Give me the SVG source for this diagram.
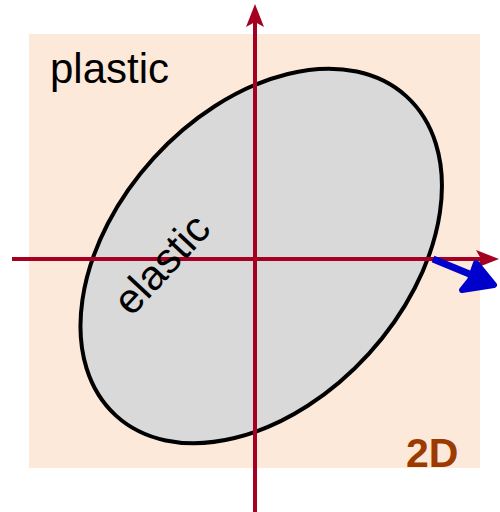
<svg xmlns="http://www.w3.org/2000/svg" width="500" height="512" viewBox="0 0 500 512">
<style>
.axis{stroke:#A50021;stroke-width:4;fill:none}
.head{fill:#A50021}
.lbl{font-family:"Liberation Sans",Arial,sans-serif;font-size:42px;fill:#000}
</style>
<rect x="0" y="0" width="500" height="512" fill="#fff"/>
<rect x="29" y="34" width="451" height="434" fill="#FDE9D9"/>
<g id="elastic-region">
<ellipse cx="261.2" cy="256" rx="215.8" ry="145.4" transform="rotate(-47.7 261.2 256)" fill="#D9D9D9" stroke="#000" stroke-width="4"/>
</g>
<g id="connectors">
<line class="axis" x1="255" y1="512" x2="255" y2="22"/>
<polygon class="head" points="255,4 264,27 255,22 246,27"/>
<line class="axis" x1="12" y1="259" x2="482" y2="259"/>
<polygon class="head" points="499,259 476,268 481,259 476,250"/>
<line x1="433" y1="259" x2="484" y2="280" stroke="#0000CC" stroke-width="7"/>
<polygon points="476,263 494,285 462,290 470,280" fill="#0000CC" stroke="#0000CC" stroke-width="6" stroke-linejoin="round"/>
</g>
<g id="labels">
<text class="lbl" x="50" y="83">plastic</text>
<text class="lbl" x="172" y="274" text-anchor="middle" font-size="39" transform="rotate(-47 172 274)">elastic</text>
<text x="406" y="467" font-family="Liberation Sans,Arial,sans-serif" font-weight="bold" font-size="41" fill="#9C3A00">2D</text>
</g>
</svg>
